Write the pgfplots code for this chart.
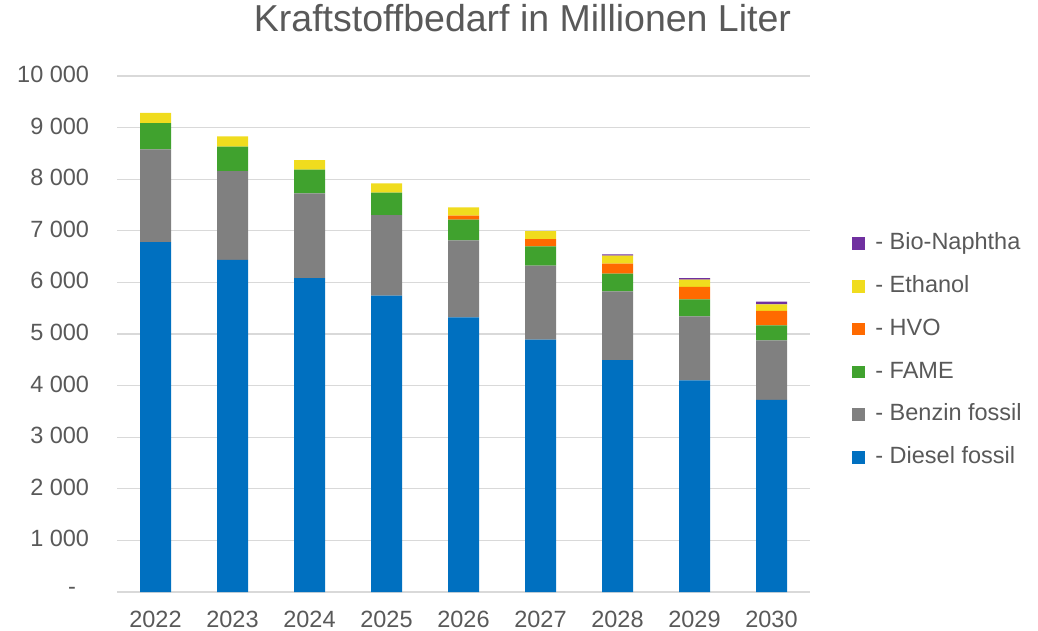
\documentclass[border=0pt]{standalone}
\usepackage{pgfplots}
\usepackage{pgfplotstable}
\pgfplotsset{compat=1.18}
\usepackage{fontspec}
\setmainfont{Liberation Sans}
\definecolor{cdiesel}{HTML}{0070C0}
\definecolor{cbenzin}{HTML}{808080}
\definecolor{cfame}{HTML}{40A22E}
\definecolor{chvo}{HTML}{FF6A00}
\definecolor{ceth}{HTML}{F0DC1E}
\definecolor{cnap}{HTML}{7030A0}
\definecolor{gridc}{HTML}{D9D9D9}
\definecolor{txt}{HTML}{595959}

\pgfplotstableread{
x D B F H E N
0 6780 1800 505 0 200 0
1 6435 1720 477 0 200 0
2 6085 1642 457 0 188 0
3 5742 1564 433 0 181 0
4 5323 1493 399 78 162 0
5 4890 1434 375 142 155 0
6 4496 1331 342 194 155 25
7 4103 1240 329 239 142 32
8 3721 1157 290 278 130 50
}\data

\begin{document}
\begin{tikzpicture}
\path[use as bounding box] (0,0) rectangle (1038pt,630pt);
\begin{axis}[
  at={(117pt,38pt)}, anchor=south west,
  scale only axis, width=693pt, height=516pt,
  ybar stacked, bar width=31pt,
  xmin=-0.5, xmax=8.5, ymin=0, ymax=10000,
  scaled y ticks=false,
  xtick={0,1,2,3,4,5,6,7,8},
  xticklabels={2022,2023,2024,2025,2026,2027,2028,2029,2030},
  ytick={0,1000,2000,3000,4000,5000,6000,7000,8000,9000,10000},
  yticklabels={{-\hphantom{0}},{1 000},{2 000},{3 000},{4 000},{5 000},{6 000},{7 000},{8 000},{9 000},{10 000}},
  major tick length=0pt,
  ymajorgrids, grid style={gridc, line width=1.3pt},
  axis line style={draw=none},
  /pgf/number format/assume math mode=true,
  tick label style={font=\fontsize{23.5}{28}\selectfont, text=txt},
  xticklabel style={anchor=base, inner sep=0pt, yshift=-35pt},
  yticklabel style={anchor=east, inner sep=0pt, xshift=-27.7pt, yshift=1.5pt},
  title={Kraftstoffbedarf in Millionen Liter},
  title style={at={(0.5851,1.0745)}, anchor=base, font=\fontsize{37.5}{44}\selectfont, text=txt, inner sep=0pt},
  reverse legend,
  legend cell align=left,
  legend style={draw=none, fill=none, at={(1.0606,0.6965)}, anchor=north west,
    inner sep=0pt, outer sep=0pt, font=\fontsize{23.5}{28}\selectfont, text=txt,
    row sep=25.6pt, nodes={inner sep=0pt, text height=17pt, text depth=0pt},
    /tikz/every odd column/.append style={column sep=10.7pt},
    /tikz/every even column/.append style={column sep=0pt}},
  legend image code/.code={\fill[#1] (0pt,-8.7pt) rectangle (12.7pt,4pt);},
]
\addplot[fill=cdiesel, draw=none] table[x=x, y=D] {\data};
\addplot[fill=cbenzin, draw=none] table[x=x, y=B] {\data};
\addplot[fill=cfame, draw=none] table[x=x, y=F] {\data};
\addplot[fill=chvo, draw=none] table[x=x, y=H] {\data};
\addplot[fill=ceth, draw=none] table[x=x, y=E] {\data};
\addplot[fill=cnap, draw=none] table[x=x, y=N] {\data};
\legend{- Diesel fossil, - Benzin fossil, - FAME, - HVO, - Ethanol, - Bio-Naphtha}
\end{axis}
\end{tikzpicture}
\end{document}
